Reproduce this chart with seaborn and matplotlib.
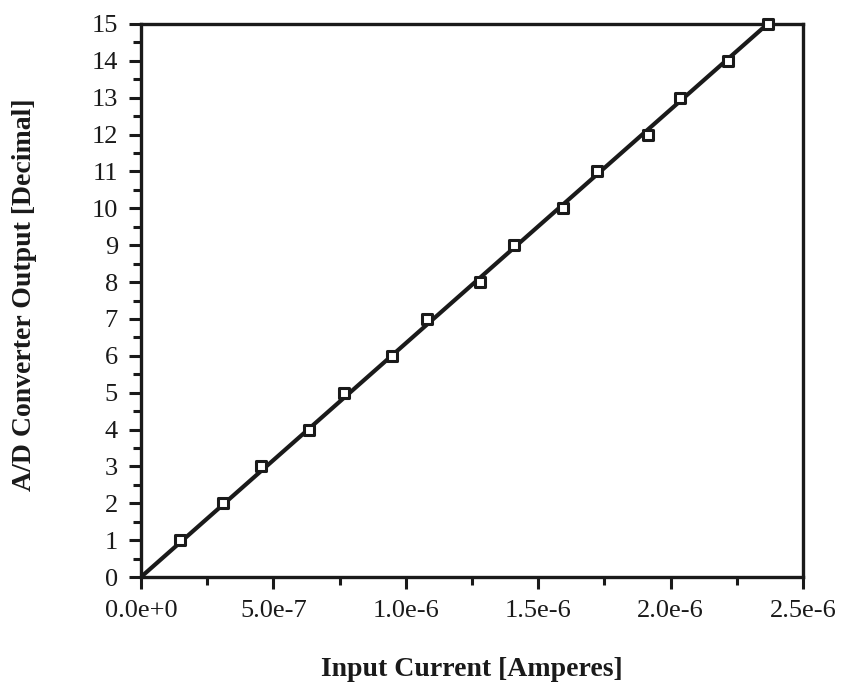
import numpy as np
import pandas as pd
import seaborn as sns
import matplotlib.pyplot as plt
from matplotlib.ticker import MultipleLocator

# Measured converter response
input_current = [1.47e-7, 3.10e-7, 4.53e-7, 6.34e-7, 7.67e-7, 9.48e-7, 1.080e-6, 1.280e-6,
                 1.409e-6, 1.594e-6, 1.722e-6, 1.915e-6, 2.036e-6, 2.217e-6, 2.368e-6]
adc_output = [1, 2, 3, 4, 5, 6, 7, 8, 9, 10, 11, 12, 13, 14, 15]
x_ticks = [0.0, 5.0e-7, 1.0e-6, 1.5e-6, 2.0e-6, 2.5e-6]
x_tick_labels = ["0.0e+0", "5.0e-7", "1.0e-6", "1.5e-6", "2.0e-6", "2.5e-6"]
y_ticks = list(range(0, 16))

df = pd.DataFrame({"current": input_current, "output": adc_output})

# Least-squares line through the origin
x = np.array(input_current)
y = np.array(adc_output)
slope = np.sum(x * y) / np.sum(x * x)
fit = pd.DataFrame({"current": [0.0, x.max()], "output": [0.0, slope * x.max()]})

sns.set_theme(style="white")
plt.rcParams["font.family"] = ["Liberation Serif", "DejaVu Serif"]

ink = "#1a1a1a"
fig = plt.figure(figsize=(8.44, 6.88), dpi=100)
ax = fig.add_axes([141 / 844, 1 - 577 / 688, (803 - 141) / 844, (577 - 24) / 688])

sns.lineplot(data=fit, x="current", y="output", ax=ax, color=ink, linewidth=3.0, zorder=2)
sns.scatterplot(data=df, x="current", y="output", ax=ax, marker="s", s=60,
                facecolor="white", edgecolor=ink, linewidth=2.2, zorder=3, clip_on=False)

ax.set_xlim(0, 2.5e-6)
ax.set_ylim(0, 15)
ax.set_xticks(x_ticks)
ax.set_xticklabels(x_tick_labels)
ax.set_yticks(y_ticks)
ax.xaxis.set_minor_locator(MultipleLocator(2.5e-7))
ax.yaxis.set_minor_locator(MultipleLocator(0.5))

for side in ["left", "right", "top", "bottom"]:
    ax.spines[side].set_visible(True)
    ax.spines[side].set_color(ink)
    ax.spines[side].set_linewidth(2.4)

ax.tick_params(axis="both", which="major", direction="out", length=8.6, width=2.2,
               color=ink, labelsize=19, labelcolor=ink, pad=8)
ax.tick_params(axis="both", which="minor", direction="out", length=5.5, width=2.2, color=ink)
ax.tick_params(bottom=True, left=True, top=False, right=False, which="both")

ax.set_xlabel("Input Current [Amperes]", fontsize=20, fontweight="bold", color=ink)
ax.set_ylabel("A/D Converter Output [Decimal]", fontsize=20, fontweight="bold", color=ink)
ax.xaxis.set_label_coords(0.5, -0.145)
ax.yaxis.set_label_coords(-0.157, 0.51)

fig.savefig("out.png", dpi=100, facecolor="white")
